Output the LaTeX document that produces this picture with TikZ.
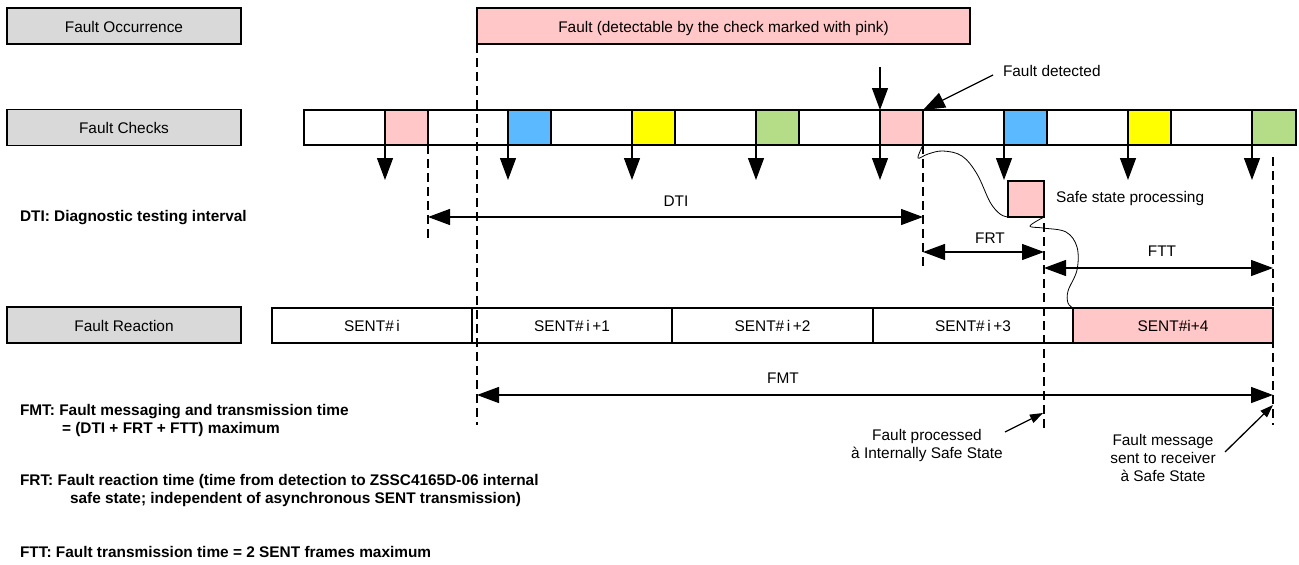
\documentclass[tikz,border=0pt]{standalone}
\usepackage{fontspec}
\setmainfont{Liberation Sans}
\usetikzlibrary{arrows.meta}
\definecolor{pinkc}{RGB}{255,199,199}
\definecolor{bluec}{RGB}{91,185,255}
\definecolor{yellowc}{RGB}{255,255,0}
\definecolor{greenc}{RGB}{181,221,136}
\definecolor{grayc}{RGB}{217,217,217}

\begin{document}
\begin{tikzpicture}[x=1pt,y=-1pt,
  every node/.style={font=\fontsize{15.4}{18}\selectfont, inner sep=0pt, outer sep=0pt},
  rowlabel/.style={draw, line width=1.4pt, fill=grayc, minimum width=234pt, minimum height=36pt,
    text height=13.5pt, text depth=1.5pt},
  framebox/.style={draw, line width=1.4pt, minimum height=35pt, text height=13.5pt, text depth=1.5pt},
  cell/.style={draw, line width=1.4pt, minimum width=43pt, minimum height=35pt, anchor=north west},
  bigarrow/.style={-{Triangle[length=22pt,width=16pt]}, line width=1.3pt},
  bigboth/.style={{Triangle[length=22pt,width=16pt]}-{Triangle[length=22pt,width=16pt]}, line width=1.3pt},
  smallarrow/.style={-{Triangle[length=13pt,width=9pt]}, line width=1.3pt},
  guide/.style={dash pattern=on 9pt off 5pt, line width=1.3pt},
  wave/.style={line width=0.8pt},
  note/.style={font=\bfseries\fontsize{15.4}{18}\selectfont, anchor=west, align=left}]

\useasboundingbox (0,0) rectangle (1299,565);

% row labels
\node[rowlabel] (occ)   at (124,26)    {Fault Occurrence};
\node[rowlabel] (chk)   at (124,127.5) {Fault Checks};
\node[rowlabel] (react) at (124,325)   {Fault Reaction};

% fault occurrence
\node[framebox, fill=pinkc, minimum width=493pt, minimum height=36pt] (fault) at (723.5,26)
  {Fault (detectable by the check marked with pink)};

% check timeline
\node[framebox, minimum width=992pt] (bar) at (800,127.5) {};
\foreach \x/\c/\n in {385/pinkc/1, 508/bluec/2, 632/yellowc/3, 756/greenc/4,
                      880/pinkc/5, 1004/bluec/6, 1128/yellowc/7} {
  \node[cell, fill=\c] (c\n) at (\x,110) {};
  \draw[bigarrow] (c\n.south west) -- ++(0,35) coordinate (t\n);
}
\node[cell, fill=greenc, minimum width=44pt] (c8) at (1252,110) {};
\draw[bigarrow] (c8.south west) -- ++(0,35) coordinate (t8);

% detection
\coordinate (inTop) at (880,67);
\draw[bigarrow] (inTop) -- (c5.north west);
\node[anchor=west] (det) at (1003,71) {Fault detected};
\coordinate (detFrom) at (993,75);
\draw[bigarrow] (detFrom) -- (c5.north east);

% safe state processing
\node[draw, line width=1.4pt, fill=pinkc, minimum width=36pt, minimum height=36pt] (safe) at (1026,199) {};
\node[anchor=west] (safetxt) at (1056,199) {Safe state processing};

% SENT frames
\node[framebox, minimum width=200pt] (s0) at (372,325.5)  {SENT\#\,i};
\node[framebox, minimum width=200pt] (s1) at (572,325.5)  {SENT\#\,i\,+1};
\node[framebox, minimum width=201pt] (s2) at (772.5,325.5) {SENT\#\,i\,+2};
\node[framebox, minimum width=200pt] (s3) at (973,325.5)  {SENT\#\,i\,+3};
\node[framebox, minimum width=200pt, fill=pinkc] (s4) at (1173,325.5) {SENT\#i+4};

% guide lines
\coordinate (g1b) at (428,238);
\draw[guide] (c1.south east) -- (g1b);
\coordinate (g2b) at (477,425);
\draw[guide] (fault.south west) -- (g2b);
\coordinate (g3b) at (923,266);
\draw[guide] (c5.south east) -- (g3b);
\coordinate (g4t) at (1044,223);
\coordinate (g4b) at (1044,432);
\draw[guide] (g4t) -- (g4b);
\coordinate (g5t) at (1273,157);
\coordinate (g5b) at (1273,425);
\draw[guide] (g5t) -- (g5b);

% interval arrows
\coordinate (dtiL) at (428,217);  \coordinate (dtiR) at (923,217);
\draw[bigboth] (dtiL) -- (dtiR);
\node (dti) at (676,201) {DTI};

\coordinate (frtL) at (923,252);  \coordinate (frtR) at (1044,252);
\draw[bigboth] (frtL) -- (frtR);
\node (frt) at (990,238) {FRT};

\coordinate (fttL) at (1044,268); \coordinate (fttR) at (1273,268);
\draw[bigboth] (fttL) -- (fttR);
\node (ftt) at (1162,251) {FTT};

\coordinate (fmtL) at (477,395);  \coordinate (fmtR) at (1273,395);
\draw[bigboth] (fmtL) -- (fmtR);
\node (fmt) at (783,378) {FMT};

% processing flow
\draw[wave] plot[smooth, tension=0.6] coordinates {(c5.south east) (918,158) (928,154) (943,151)
  (962,156) (977,174) (990,202) (1000,214) (safe.south west)};
\draw[wave] plot[smooth, tension=0.6] coordinates {(safe.south east) (1030,226) (1043,228)
  (1066,232) (1077,247) (1077,270) (1068,291) (1068,303) (s4.north west)};

% outcome notes
\node[align=center] (proc) at (927,446) {Fault processed\\à Internally Safe State};
\coordinate (procFrom) at (1005,432); \coordinate (procTo) at (1043,413);
\draw[smallarrow] (procFrom) -- (procTo);
\node[align=center] (sent) at (1163,458) {Fault message\\sent to receiver\\à Safe State};
\coordinate (sentFrom) at (1225,452); \coordinate (sentTo) at (1273,405);
\draw[smallarrow] (sentFrom) -- (sentTo);

% legend
\node[note] (ldti) at (20,218) {DTI: Diagnostic testing interval};
\node[note] (lfmt) at (20,421) {FMT: Fault messaging and transmission time\\\hspace*{42pt}= (DTI + FRT + FTT) maximum};
\node[note] (lfrt) at (20,491) {FRT: Fault reaction time (time from detection to ZSSC4165D-06 internal\\\hspace*{50pt}safe state; independent of asynchronous SENT transmission)};
\node[note] (lftt) at (20,552) {FTT: Fault transmission time = 2 SENT frames maximum};
\end{tikzpicture}
\end{document}
